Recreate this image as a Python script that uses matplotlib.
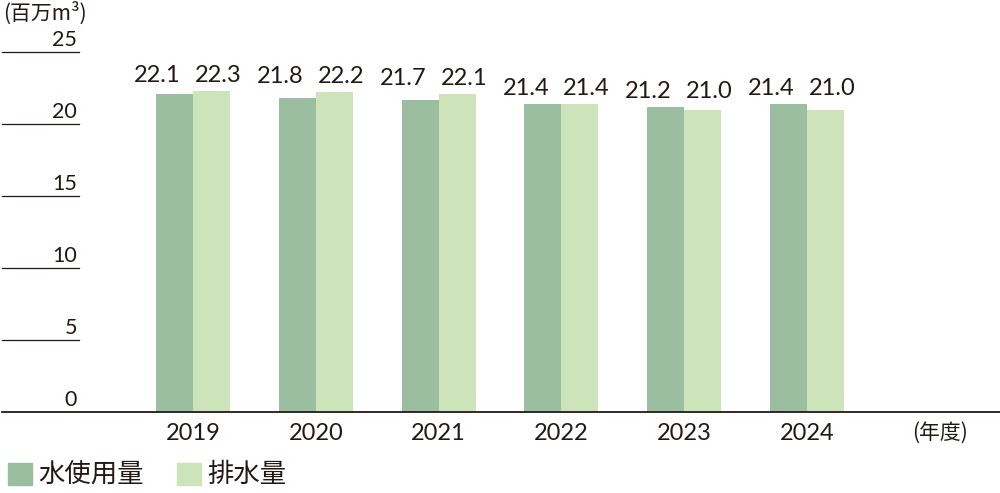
import matplotlib
matplotlib.use("Agg")
import matplotlib.pyplot as plt
from matplotlib.patches import Rectangle

plt.rcParams['font.family'] = ['Noto Sans CJK JP', 'DejaVu Sans']
num_font = ['Lato', 'Noto Sans CJK JP', 'DejaVu Sans']

years = ['2019', '2020', '2021', '2022', '2023', '2024']
water_use = [22.1, 21.8, 21.7, 21.4, 21.2, 21.4]
discharge = [22.3, 22.2, 22.1, 21.4, 21.0, 21.0]
yticks = [0, 5, 10, 15, 20, 25]
series_names = ['水使用量', '排水量']

c_use = '#9bbea0'
c_dis = '#cde3b9'
txt = '#231815'

fig = plt.figure(figsize=(10, 4.93), dpi=100)
ax = fig.add_axes([0, 81 / 493, 1, 360 / 493])

# pixel geometry: group centre 193px, spacing 122.8px
step = 122.8
ax.set_xlim(-193 / step, (1000 - 193) / step)
ax.set_ylim(0, 25)
w = 37 / step

x = list(range(len(years)))
ax.bar([i - w / 2 for i in x], water_use, width=w, color=c_use, linewidth=0)
ax.bar([i + w / 2 for i in x], discharge, width=w, color=c_dis, linewidth=0)

# value labels, shared height within each group
for i in x:
    top = max(water_use[i], discharge[i])
    ax.text(i - 0.29, top + 0.62, f'{water_use[i]:.1f}', ha='center', va='baseline',
            fontsize=17, color=txt, family=num_font)
    ax.text(i + 0.205, top + 0.62, f'{discharge[i]:.1f}', ha='center', va='baseline',
            fontsize=17, color=txt, family=num_font)

for s in ax.spines.values():
    s.set_visible(False)
ax.set_xticks([])
ax.set_yticks([])

# short gridline stubs with labels above
x0 = -193 / step
for v in yticks[1:]:
    ax.plot([x0 + 2 / step, x0 + 79 / step], [v, v], color=txt, lw=0.9, clip_on=False)
for v in yticks:
    ax.text(x0 + 77 / step, v + 0.42, str(v), ha='right', va='baseline',
            fontsize=15.5, color=txt, family=num_font)

# baseline
ax.plot([x0 + 2 / step, x0 + 1000 / step], [0, 0], color=txt, lw=1.3, clip_on=False)

# year labels
for i, y in enumerate(years):
    fig.text((193 + step * i) / 1000, 1 - 433 / 493, y, ha='center', va='center',
             fontsize=17, color=txt, family=num_font)
fig.text(940 / 1000, 1 - 433 / 493, '(年度)', ha='center', va='center',
         fontsize=15, color=txt)
fig.text(3 / 1000, 1 - 13 / 493, '(百万m³)', ha='left', va='center',
         fontsize=15, color=txt)

# legend
for (lx, name, col) in [(8, series_names[0], c_use), (177, series_names[1], c_dis)]:
    fig.patches.append(Rectangle((lx / 1000, 1 - 485 / 493), 24 / 1000, 22 / 493,
                                 transform=fig.transFigure, color=col, figure=fig))
    fig.text((lx + 30) / 1000, 1 - 474 / 493, name, ha='left', va='center',
             fontsize=19, color=txt)

fig.savefig('out.png', dpi=100)
